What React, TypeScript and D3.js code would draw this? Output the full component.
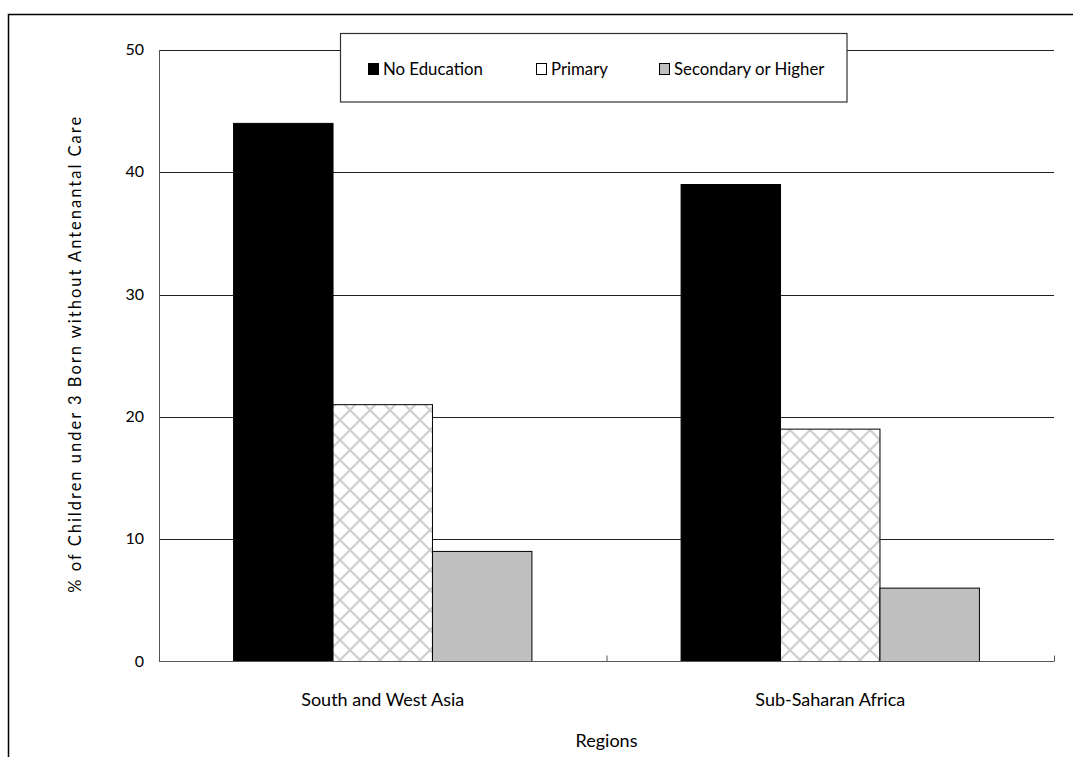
import React from "react";
import * as d3 from "d3";

const regions = ["South and West Asia", "Sub-Saharan Africa"];
const seriesNames = ["No Education", "Primary", "Secondary or Higher"];
const noEducation = [44, 39];
const primary = [21, 19];
const secondary = [9, 6];
const yTicks = [0, 10, 20, 30, 40, 50];

const W = 1073;
const H = 757;
const FONT = "Lato, 'Open Sans', sans-serif";

export default function App() {
  const left = 159, right = 1054, top = 50, bottom = 661.5;
  const y = d3.scaleLinear().domain([0, 50]).range([bottom, top]);
  const x0 = d3.scaleBand<string>().domain(regions).range([left, right]).paddingInner(0).paddingOuter(0);
  const groupW = x0.bandwidth() * (2 / 3);
  const x1 = d3.scaleBand<string>().domain(seriesNames).range([0, groupW]);
  const series = [noEducation, primary, secondary];
  const fills = ["#000000", "url(#hatch)", "#c0c0c0"];

  return (
    <svg width={W} height={H} style={{ position: "absolute", left: 0, top: 0 }} fontFamily={FONT}>
      <defs>
        <pattern id="hatch" patternUnits="userSpaceOnUse" width={20} height={20}>
          <rect width={20} height={20} fill="#ffffff" />
          <path d="M0,0L20,20M0,20L20,0" stroke="#cfcfcf" strokeWidth={2.2} />
        </pattern>
      </defs>
      <rect x={0} y={0} width={W} height={H} fill="#fff" />
      <rect x={8.5} y={14.5} width={W + 20} height={H + 20} fill="none" stroke="#000" strokeWidth={1.5} />
      {/* gridlines */}
      {yTicks.filter((t) => t > 0).map((t) => (
        <line key={t} x1={left} x2={right} y1={Math.round(y(t)) + 0.5} y2={Math.round(y(t)) + 0.5} stroke="#222" strokeWidth={1} />
      ))}
      {/* y tick labels */}
      {yTicks.map((t) => (
        <text key={"l" + t} x={144} y={y(t) + 5} textAnchor="end" fontSize={16} fill="#000">{t}</text>
      ))}
      {/* bars */}
      {regions.map((r, i) => {
        const gx = (x0(r) as number) + (x0.bandwidth() - groupW) / 2;
        return seriesNames.map((s, j) => (
          <rect key={r + s} x={gx + (x1(s) as number)} y={y(series[j][i])} width={x1.bandwidth()} height={bottom - y(series[j][i])} fill={fills[j]} stroke="#000" strokeWidth={1} />
        ));
      })}
      {/* axes */}
      <line x1={left + 0.5} x2={left + 0.5} y1={top} y2={bottom} stroke="#555" strokeWidth={1} />
      <line x1={left} x2={right} y1={bottom} y2={bottom} stroke="#555" strokeWidth={1.2} />
      {[left, ...regions.map((r) => (x0(r) as number) + x0.bandwidth())].map((tx, i) => (
        <line key={"t" + i} x1={tx + 0.5} x2={tx + 0.5} y1={bottom} y2={bottom - 6} stroke="#555" strokeWidth={1} />
      ))}
      {/* category labels */}
      {regions.map((r) => (
        <text key={"c" + r} x={(x0(r) as number) + x0.bandwidth() / 2} y={706} textAnchor="middle" fontSize={18} fill="#000">{r}</text>
      ))}
      <text x={(left + right) / 2} y={747} textAnchor="middle" fontSize={18} fill="#000">Regions</text>
      <text transform={`translate(81,${(top + bottom) / 2 - 2}) rotate(-90)`} textAnchor="middle" fontSize={16.5} letterSpacing={2} fill="#000">% of Children under 3 Born without Antenantal Care</text>
      {/* legend */}
      <rect x={340.5} y={33.5} width={506.5} height={68.5} fill="#fff" stroke="#333" strokeWidth={1.2} />
      {seriesNames.map((s, j) => {
        const lx = [368, 536, 659][j];
        return (
          <g key={"lg" + s}>
            <rect x={lx + 0.5} y={63.5} width={10} height={11} fill={j === 1 ? "#fff" : fills[j]} stroke="#000" strokeWidth={1} />
            <text x={lx + 15} y={75} fontSize={16.8} fill="#000">{s}</text>
          </g>
        );
      })}
    </svg>
  );
}
